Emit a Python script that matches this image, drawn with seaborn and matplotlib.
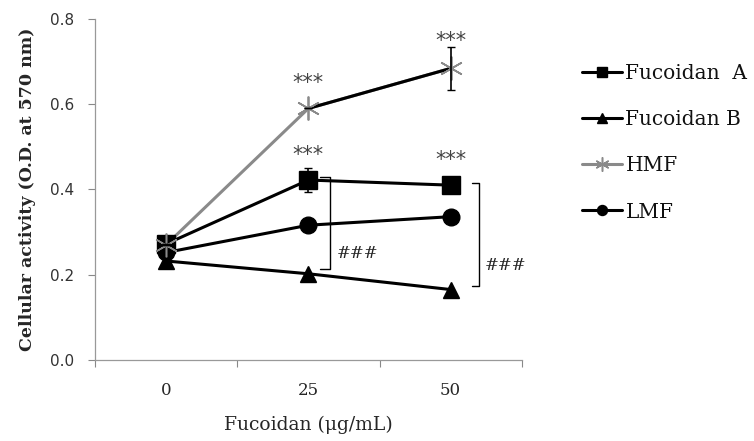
import numpy as np
import pandas as pd
import matplotlib
matplotlib.use("Agg")
import matplotlib.pyplot as plt
import seaborn as sns

categories = ["0", "25", "50"]
fuco_a = [0.272, 0.422, 0.410]
fuco_a_err = [0.0, 0.028, 0.0]
fuco_b = [0.232, 0.202, 0.165]
hmf = [0.270, 0.590, 0.684]
hmf_err = [0.0, 0.0, 0.05]
lmf = [0.252, 0.316, 0.336]
series_names = ["Fucoidan  A", "Fucoidan B", "HMF", "LMF"]
yticks = [0.0, 0.2, 0.4, 0.6, 0.8]

sns.set_theme(style="white")
plt.rcParams['font.family'] = ['DejaVu Serif']

fig = plt.figure(figsize=(7.54, 4.41), dpi=100)
ax = fig.add_axes([0.126, 0.184, 0.566, 0.773])

xpos = np.arange(len(categories))
df = pd.DataFrame({
    "x": np.tile(xpos, 4),
    "y": fuco_a + fuco_b + hmf + lmf,
    "s": np.repeat(series_names, 3),
})

HMF_GRAY = "#8a8a8a"
styles = {
    "Fucoidan  A": dict(color="black", marker="s", ms=13, mew=1.0),
    "Fucoidan B": dict(color="black", marker="^", ms=12, mew=1.0),
    "HMF": dict(color=HMF_GRAY, marker=(6, 2, 0), ms=17, mew=1.1),
    "LMF": dict(color="black", marker="o", ms=12, mew=1.0),
}
order = ["HMF", "Fucoidan  A", "LMF", "Fucoidan B"]
for name in order:
    st = styles[name]
    sub = df[df.s == name]
    sns.lineplot(data=sub, x="x", y="y", ax=ax, color=st["color"], lw=2.2,
                 marker=st["marker"], markersize=st["ms"],
                 markeredgecolor=st["color"], markeredgewidth=st["mew"],
                 label=name, zorder=3)
# darker HMF segment between 25 and 50, then markers on top
ax.plot(xpos[1:], hmf[1:], color="black", lw=2.2, zorder=3.2)
ax.plot(xpos, hmf, ls="none", marker=(6, 2, 0), ms=17, mec=HMF_GRAY,
        mew=1.1, zorder=3.4)
ax.errorbar(xpos, fuco_a, yerr=fuco_a_err, fmt="none", ecolor="black",
            elinewidth=1.2, capsize=3, zorder=4)
ax.errorbar(xpos, hmf, yerr=hmf_err, fmt="none", ecolor="black",
            elinewidth=1.2, capsize=3, zorder=4)

ax.set_xlim(-0.5, 2.5)
ax.set_ylim(0, 0.8)
ax.set_yticks(yticks)
ax.set_yticklabels([f"{v:.1f}" for v in yticks], family="DejaVu Sans",
                   fontsize=11, color="#333333")
ax.set_xticks(xpos)
ax.set_xticklabels(categories, fontsize=12)
ax.set_xticks([-0.5, 0.5, 1.5, 2.5], minor=True)
ax.tick_params(axis="x", which="major", length=0, pad=16)
ax.tick_params(axis="x", which="minor", length=5, width=0.8, color="#888888",
               direction="out", bottom=True)
ax.tick_params(axis="y", which="major", length=5, width=0.8, color="#888888",
               left=True, direction="out", pad=10)

for sp in ["top", "right"]:
    ax.spines[sp].set_visible(False)
for sp in ["left", "bottom"]:
    ax.spines[sp].set_color("#999999")
    ax.spines[sp].set_linewidth(0.9)

ax.set_xlabel("Fucoidan (μg/mL)", fontsize=13.5, labelpad=12)
ax.set_ylabel("Cellular activity (O.D. at 570 nm)", fontsize=12.5,
              fontweight="bold", labelpad=10)

# significance stars
star_kw = dict(ha="center", va="center", fontsize=15, color="#444444",
               family="DejaVu Sans")
ax.text(1, 0.65, "***", **star_kw)
ax.text(2, 0.748, "***", **star_kw)
ax.text(1, 0.481, "***", **star_kw)
ax.text(2, 0.469, "***", **star_kw)

# brackets
def bracket(x0, x1, ytop, ybot):
    ax.plot([x0, x1, x1, x0], [ytop, ytop, ybot, ybot], color="black",
            lw=1.0, zorder=2, clip_on=False)

bracket(1.08, 1.15, 0.428, 0.214)
ax.text(1.2, 0.25, "###", fontsize=12, va="center", ha="left")
bracket(2.15, 2.2, 0.414, 0.174)
ax.text(2.24, 0.222, "###", fontsize=12, va="center", ha="left",
        clip_on=False)

handles, labels = ax.get_legend_handles_labels()
if ax.get_legend() is not None:
    ax.get_legend().remove()
lab_order = ["Fucoidan  A", "Fucoidan B", "HMF", "LMF"]
hmap = dict(zip(labels, handles))
leg = fig.legend([hmap[l] for l in lab_order], lab_order, loc="upper left",
                 bbox_to_anchor=(0.772, 0.855), frameon=False, fontsize=14.5,
                 handlelength=2.0, handletextpad=0.15, labelspacing=1.35,
                 markerscale=0.6, borderpad=0, borderaxespad=0)
for t in leg.get_texts():
    t.set_color("#111111")

fig.savefig("out.png", dpi=100)
